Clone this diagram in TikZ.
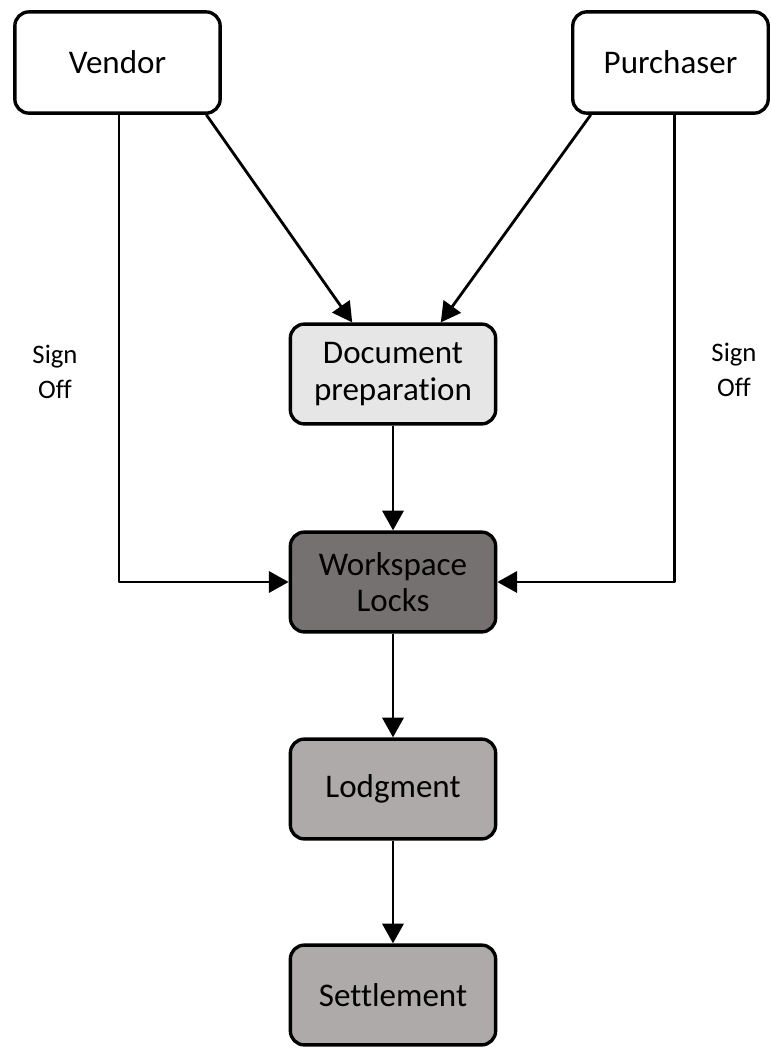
\documentclass[tikz,border=0pt]{standalone}
\usepackage{fontspec}
\setmainfont{Carlito}[Ligatures=NoCommon]
\usetikzlibrary{arrows.meta}
\definecolor{docgray}{HTML}{E7E6E6}
\definecolor{lockgray}{HTML}{767171}
\definecolor{lodggray}{HTML}{AEAAAA}
\begin{document}
\begin{tikzpicture}[x=0.025cm, y=-0.025cm, line width=2pt, line join=round,
	>={Triangle[length=14pt,width=15pt]},
	box/.style={draw, line width=2.4pt, rounded corners=10pt, align=center, minimum width=146pt, minimum height=71pt, inner sep=2pt,
		font=\fontsize{23.5}{26}\selectfont},
	note/.style={align=center, font=\fontsize{19}{25}\selectfont}]
	\useasboundingbox (0,0) rectangle (771,1048);
	% parties
	\node[box, minimum height=72pt] (vendor) at (117.5,62.5) {Vendor};
	\node[box, minimum width=139pt, minimum height=72pt] (purchaser) at (670.5,62.5) {Purchaser};
	% process
	\node[box, fill=docgray] (doc) at (393,374) {Document\\preparation};
	\node[box, fill=lockgray] (locks) at (393,582) {Workspace\\Locks};
	\node[box, fill=lodggray] (lodg) at (393,789) {Lodgment};
	\node[box, fill=lodggray] (settle) at (393,995) {Settlement};
	\draw[->] ([xshift=-11pt]vendor.south east) -- ([xshift=-29pt]doc.north);
	\draw[->] ([xshift=14pt]purchaser.south west) -- ([xshift=34pt]doc.north);
	\draw[->] ([xshift=1pt]vendor.south) |- (locks.west);
	\draw[->] ([xshift=3pt]purchaser.south) |- (locks.east);
	\foreach \a/\b in {doc/locks, locks/lodg, lodg/settle} \draw[->] (\a) -- (\b);
	\node[note] (signl) at (55,372) {Sign\\Off};
	\node[note] (signr) at (734,370) {Sign\\Off};
\end{tikzpicture}
\end{document}
